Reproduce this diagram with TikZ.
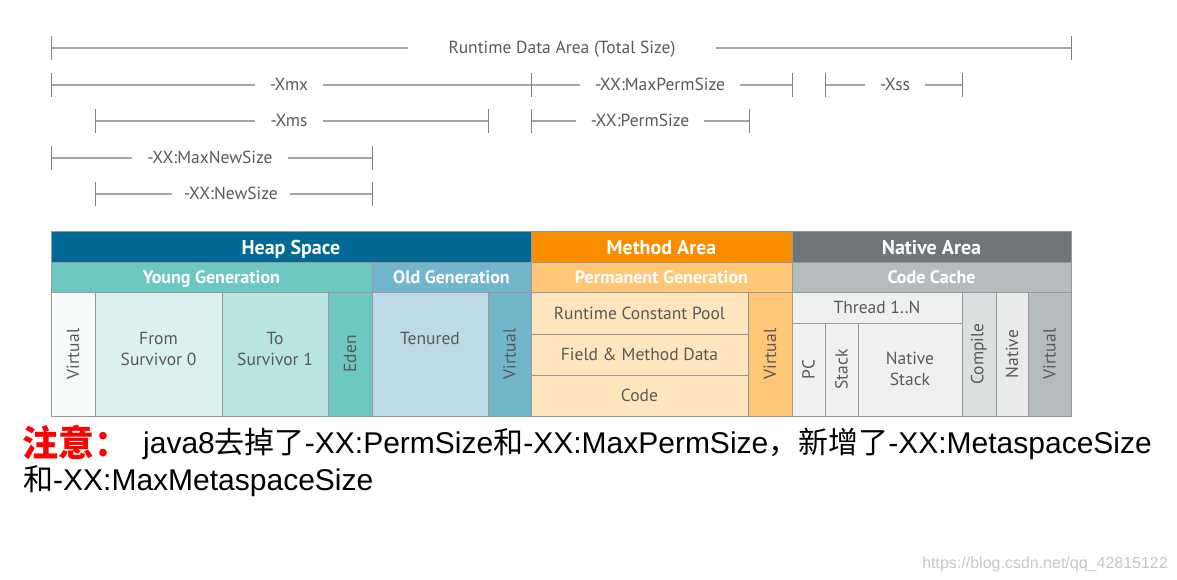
\documentclass[tikz,border=0pt]{standalone}
\usepackage{fontspec}
\setmainfont{PT Sans}
\newfontfamily\cjkfont{Noto Sans CJK SC}
\newfontfamily\arialfont{Liberation Sans}
\definecolor{heapblue}{RGB}{0,106,148}
\definecolor{younggreen}{RGB}{108,200,192}
\definecolor{oldblue}{RGB}{113,182,203}
\definecolor{methodorange}{RGB}{249,141,0}
\definecolor{permorange}{RGB}{253,199,119}
\definecolor{nativegray}{RGB}{109,118,121}
\definecolor{cachegray}{RGB}{181,188,190}
\definecolor{virtwhite}{RGB}{246,250,251}
\definecolor{fromteal}{RGB}{220,241,239}
\definecolor{toteal}{RGB}{185,229,224}
\definecolor{tenuredblue}{RGB}{188,219,230}
\definecolor{permcell}{RGB}{254,229,189}
\definecolor{threadgray}{RGB}{239,240,240}
\definecolor{compilegray}{RGB}{220,223,224}
\definecolor{nativecell}{RGB}{233,235,235}
\definecolor{dimgray}{RGB}{165,165,165}
\definecolor{labelgray}{RGB}{90,90,90}

\begin{document}
\begin{tikzpicture}[x=1pt, y=-1pt,
    dimline/.style={draw=dimgray, line width=1.4pt},
    dimtick/.style={draw=gray, line width=0.9pt},
    dimlabel/.style={inner xsep=15pt, inner ysep=0pt, text height=12pt, text depth=0pt, text=labelgray, font=\fontsize{17.5}{20}\selectfont},
    cell/.style={draw=black!40, line width=1pt},
    headtxt/.style={text=white, text height=14pt, text depth=0pt, font=\bfseries\fontsize{20}{24}\selectfont},
    subtxt/.style={text=white, text height=12.6pt, text depth=0pt, font=\bfseries\fontsize{18}{21}\selectfont},
    celltxt/.style={text=labelgray, align=center, font=\fontsize{17.5}{21}\selectfont}]
    \useasboundingbox (0,0) rectangle (1177,580);

    % runtime data area
    \coordinate (rdaL) at (51,48);
    \coordinate (rdaR) at (1071,48);
    \node[dimlabel, inner xsep=40pt] (rda) at (562,48) {Runtime Data Area (Total Size)};
    \draw[dimline] (rdaL) -- (rda) -- (rdaR);

    % max sizes
    \coordinate (xmxL) at (51,85);
    \coordinate (xmxR) at (531,85);
    \node[dimlabel] (xmx) at (289,85) {-Xmx};
    \draw[dimline] (xmxL) -- (xmx) -- (xmxR);
    \coordinate (mpsL) at (531,85);
    \coordinate (mpsR) at (792,85);
    \node[dimlabel] (mps) at (660,85) {-XX:MaxPermSize};
    \draw[dimline] (mpsL) -- (mps) -- (mpsR);
    \coordinate (xssL) at (825,85);
    \coordinate (xssR) at (962,85);
    \node[dimlabel] (xss) at (895,85) {-Xss};
    \draw[dimline] (xssL) -- (xss) -- (xssR);

    % initial sizes
    \coordinate (xmsL) at (95,121);
    \coordinate (xmsR) at (488,121);
    \node[dimlabel] (xms) at (289,121) {-Xms};
    \draw[dimline] (xmsL) -- (xms) -- (xmsR);
    \coordinate (psL) at (531,121);
    \coordinate (psR) at (749,121);
    \node[dimlabel] (ps) at (640,121) {-XX:PermSize};
    \draw[dimline] (psL) -- (ps) -- (psR);

    % new sizes
    \coordinate (mnsL) at (51,158);
    \coordinate (mnsR) at (372,158);
    \node[dimlabel] (mns) at (210,158) {-XX:MaxNewSize};
    \draw[dimline] (mnsL) -- (mns) -- (mnsR);
    \coordinate (nsL) at (95,194);
    \coordinate (nsR) at (372,194);
    \node[dimlabel, inner xsep=12pt] (ns) at (231,194) {-XX:NewSize};
    \draw[dimline] (nsL) -- (ns) -- (nsR);

    \foreach \c in {rdaL,rdaR,xmxL,xmxR,mpsR,xssL,xssR,xmsL,xmsR,psL,psR,mnsL,mnsR,nsL,nsR}
        \draw[dimtick] ([yshift=12pt]\c) -- ([yshift=-12pt]\c);

    % header row
    \draw[cell, fill=heapblue] (51,231) rectangle (531,262);
    \draw[cell, fill=methodorange] (531,231) rectangle (792,262);
    \draw[cell, fill=nativegray] (792,231) rectangle (1071,262);
    \node[headtxt] (heap) at (291,247) {Heap Space};
    \node[headtxt] (method) at (661.5,247) {Method Area};
    \node[headtxt] (nativearea) at (931.5,247) {Native Area};

    % generations
    \draw[cell, fill=younggreen] (51,262) rectangle (372,292);
    \draw[cell, fill=oldblue] (372,262) rectangle (531,292);
    \draw[cell, fill=permorange] (531,262) rectangle (792,292);
    \draw[cell, fill=cachegray] (792,262) rectangle (1071,292);
    \node[subtxt] (young) at (211.5,277) {Young Generation};
    \node[subtxt] (old) at (451.5,277) {Old Generation};
    \node[subtxt] (perm) at (661.5,277) {Permanent Generation};
    \node[subtxt] (cache) at (931.5,277) {Code Cache};

    % body cells
    \foreach \xa/\xb/\col in {51/95/virtwhite, 95/222/fromteal, 222/328/toteal, 328/372/younggreen,
        372/488/tenuredblue, 488/531/oldblue, 748/792/permorange,
        962/996/compilegray, 996/1028/nativecell, 1028/1071/cachegray}
        \draw[cell, fill=\col] (\xa,292) rectangle (\xb,416);
    \foreach \ya/\yb in {292/334, 334/375, 375/416}
        \draw[cell, fill=permcell] (531,\ya) rectangle (748,\yb);
    \draw[cell, fill=threadgray] (792,292) rectangle (962,323);
    \foreach \xa/\xb in {792/825, 825/858, 858/962}
        \draw[cell, fill=threadgray] (\xa,323) rectangle (\xb,416);

    % heap texts
    \node[celltxt, rotate=90] (heapvirt) at (73,354) {Virtual};
    \node[celltxt] (from) at (158.5,349) {From\\Survivor 0};
    \node[celltxt] (to) at (275,349) {To\\Survivor 1};
    \node[celltxt, rotate=90] (eden) at (350,354) {Eden};
    \node[celltxt] (tenured) at (430,338) {Tenured};
    \node[celltxt, rotate=90] (oldvirt) at (509.5,354) {Virtual};

    % method texts
    \node[celltxt] (pool) at (639.5,313) {Runtime Constant Pool};
    \node[celltxt] (field) at (639.5,354.5) {Field \& Method Data};
    \node[celltxt] (code) at (639.5,395.5) {Code};
    \node[celltxt, rotate=90] (permvirt) at (770,354) {Virtual};

    % native texts
    \node[celltxt] (thread) at (877,307.5) {Thread 1..N};
    \node[celltxt, rotate=90] (pc) at (808.5,369.5) {PC};
    \node[celltxt, rotate=90] (stack) at (841.5,369.5) {Stack};
    \node[celltxt] (nstack) at (910,369) {Native\\Stack};
    \node[celltxt, rotate=90] (compile) at (979,354) {Compile};
    \node[celltxt, rotate=90] (native) at (1012,354) {Native};
    \node[celltxt, rotate=90] (codevirt) at (1049.5,354) {Virtual};

    % note
    \node[anchor=base west, inner sep=0pt, text=red, font=\cjkfont\bfseries\fontsize{36}{40}\selectfont] (notehead) at (22,456) {注意：};
    \node[anchor=base west, inner sep=0pt, font=\arialfont\fontsize{30}{37}\selectfont] (noteone) at (143,453)
        {java8{\cjkfont 去掉了}-XX:PermSize{\cjkfont 和}-XX:MaxPermSize{\cjkfont ，新增了}-XX:MetaspaceSize};
    \node[anchor=base west, inner sep=0pt, font=\arialfont\fontsize{30}{37}\selectfont] (notetwo) at (23,490)
        {{\cjkfont 和}-XX:MaxMetaspaceSize};
    \node[anchor=base east, inner sep=0pt, text=black!22, font=\arialfont\fontsize{16}{18}\selectfont] (mark) at (1168,568)
        {https://blog.csdn.net/qq\_42815122};
\end{tikzpicture}
\end{document}
